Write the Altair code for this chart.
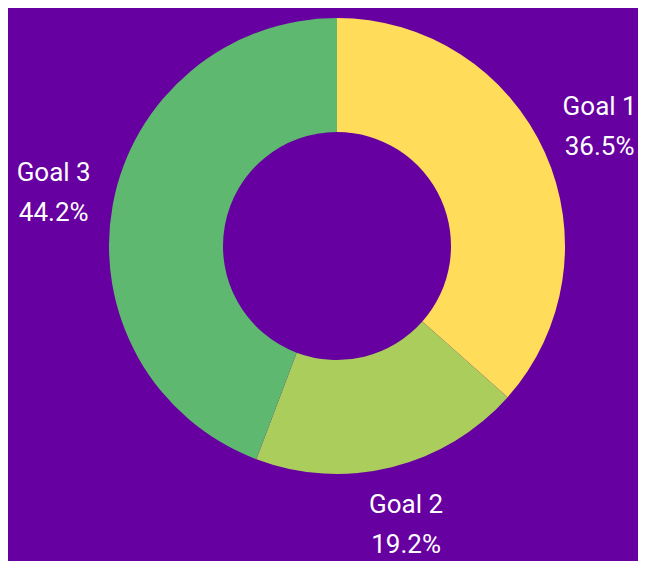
import altair as alt
import pandas as pd

goals = ["Goal 1", "Goal 2", "Goal 3"]
shares = [36.5, 19.2, 44.2]
colors = ["#FFDC5A", "#AACD5B", "#5FB86F"]

df = pd.DataFrame({
    "goal": goals,
    "share": shares,
    "order": list(range(len(goals))),
})
df["label"] = df["goal"] + "\n" + df["share"].map(lambda v: f"{v:.1f}%")

base = alt.Chart(df).encode(
    theta=alt.Theta("share:Q", stack=True),
    order=alt.Order("order:Q"),
    x=alt.value(329),
    y=alt.value(238),
)

arcs = base.mark_arc(outerRadius=228, innerRadius=114, stroke=None).encode(
    color=alt.Color("goal:N", scale=alt.Scale(domain=goals, range=colors), legend=None)
)

labels = base.mark_text(
    radius=288,
    dy=-21,
    fontSize=26,
    font="Roboto",
    color="white",
    lineBreak="\n",
    lineHeight=40,
    align="center",
    baseline="middle",
).encode(text="label:N")

chart = (arcs + labels).properties(
    width=630,
    height=553,
    background="#6600A0",
    padding=0,
    autosize=alt.AutoSizeParams(type="none"),
).configure_view(stroke=None)

chart.save("out.html", embed_options={"renderer": "svg", "actions": False})
